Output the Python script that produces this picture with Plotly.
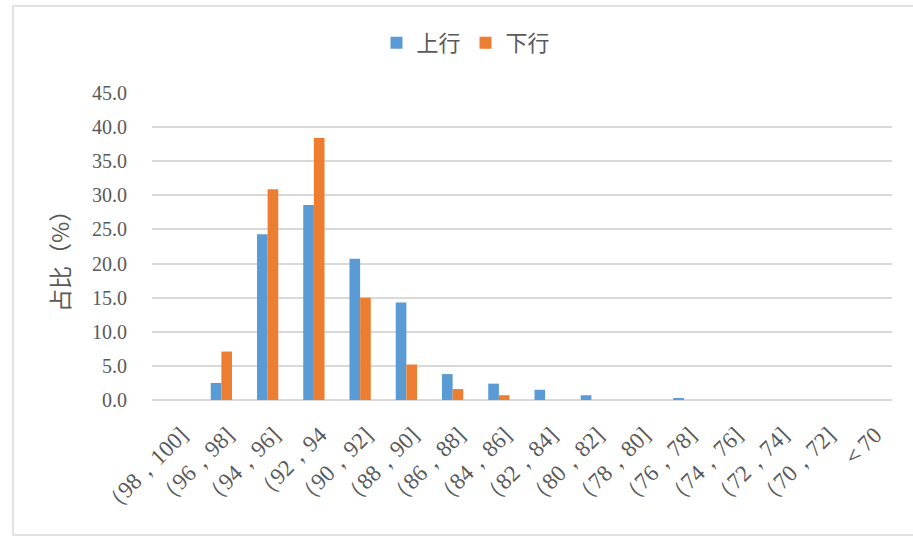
import plotly.graph_objects as go

categories = ["（98，100]", "（96，98]", "（94，96]", "（92，94", "（90，92]", "（88，90]",
              "（86，88]", "（84，86]", "（82，84]", "（80，82]", "（78，80]", "（76，78]",
              "（74，76]", "（72，74]", "（70，72]", "＜70"]
up_values = [0, 2.5, 24.3, 28.6, 20.7, 14.3, 3.8, 2.4, 1.5, 0.7, 0, 0.3, 0, 0, 0, 0]
down_values = [0, 7.1, 30.9, 38.4, 15.0, 5.2, 1.6, 0.7, 0, 0, 0, 0, 0, 0, 0, 0]
y_ticks = [0, 5, 10, 15, 20, 25, 30, 35, 40, 45]
y_ticklabels = ["0.0", "5.0", "10.0", "15.0", "20.0", "25.0", "30.0", "35.0", "40.0", "45.0"]

W, H = 913, 536
L, R, T, B = 152, 21, 93, 136
pw, ph = W - L - R, H - T - B

def px_x(v):
    return (v - L) / pw

def px_y(v):
    return (H - B - v) / ph

fig = go.Figure()
fig.add_trace(go.Bar(name="上行", x=categories, y=up_values, marker=dict(color="#5b9bd5", line=dict(width=0))))
fig.add_trace(go.Bar(name="下行", x=categories, y=down_values, marker=dict(color="#ed7d31", line=dict(width=0))))

fig.update_layout(
    width=W, height=H,
    margin=dict(l=L, r=R, t=T, b=B, autoexpand=False),
    paper_bgcolor="white", plot_bgcolor="white",
    barmode="group", bargap=0.54, bargroupgap=0,
    showlegend=True,
    legend=dict(orientation="h", x=466 / W, y=1 - 43 / H, xref="container", yref="container",
                xanchor="center", yanchor="middle",
                font=dict(family="Noto Sans CJK SC", size=22, color="#595959"),
                itemwidth=30, traceorder="normal", bgcolor="rgba(0,0,0,0)"),
    xaxis=dict(tickangle=-45, tickfont=dict(family="Liberation Serif", size=23, color="#595959"),
               showgrid=False, showline=False, ticks="", zeroline=False, automargin=False,
               ticklabelstandoff=16, ticklabelshift=6),
    yaxis=dict(range=[0, 45], tickvals=y_ticks, ticktext=y_ticklabels,
               tickfont=dict(family="Liberation Serif", size=20, color="#595959"),
               showgrid=True, gridcolor="#d9d9d9", gridwidth=1.5, zeroline=True,
               zerolinecolor="#d9d9d9", zerolinewidth=1.5, showline=False, ticks="",
               ticklabelstandoff=24, automargin=False),
    annotations=[dict(text="占比（%）", x=px_x(59), y=px_y(256), xref="paper", yref="paper",
                      textangle=-90, showarrow=False, xanchor="center", yanchor="middle",
                      font=dict(family="Noto Sans CJK SC", size=23, color="#595959"))],
    shapes=[dict(type="rect", xref="paper", yref="paper",
                 x0=px_x(13), x1=px_x(916), y0=px_y(535), y1=px_y(6),
                 line=dict(color="#d9d9d9", width=1.5), fillcolor="rgba(0,0,0,0)", layer="below")],
)

fig.write_html("out.html", config={"displayModeBar": False},
               post_script="document.body.style.margin='0';document.body.style.overflow='hidden';")
